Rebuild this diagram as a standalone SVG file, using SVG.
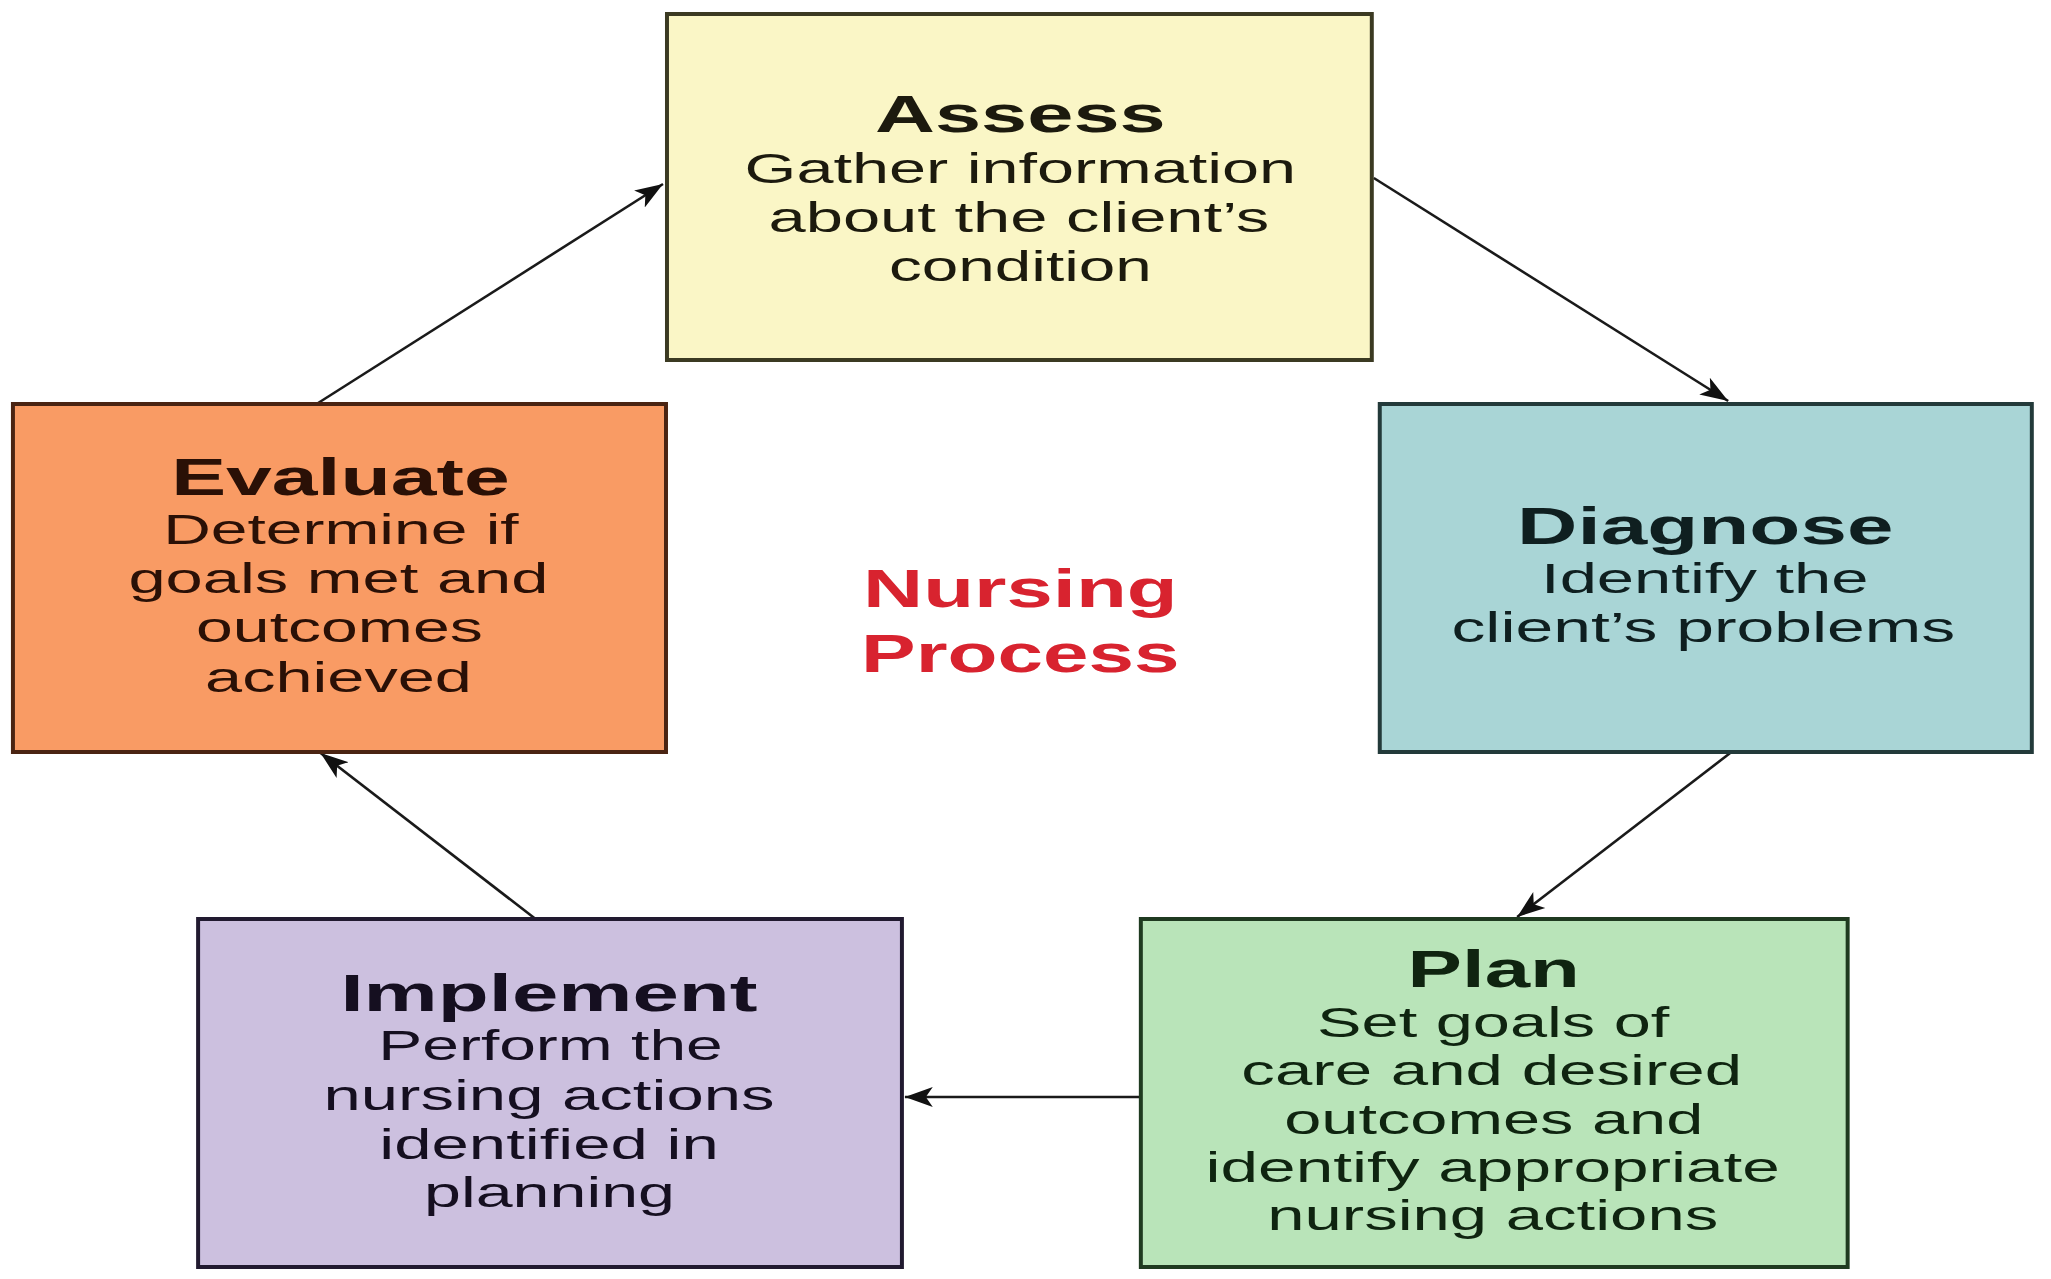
<svg xmlns="http://www.w3.org/2000/svg" width="2051" height="1279" viewBox="0 0 2051 1279">
<style>
.box{stroke-width:4}
.t{font-family:"Liberation Sans",Arial,sans-serif;font-weight:bold;font-size:52px}
.b{font-family:"Liberation Sans",Arial,sans-serif;font-size:42px}
.np{font-family:"Liberation Sans",Arial,sans-serif;font-weight:bold;font-size:54px;fill:#d8232f}
.conn{stroke:#1a1a1a;stroke-width:2.6;fill:none;marker-end:url(#ah)}
</style>
<defs>
<marker id="ah" markerUnits="userSpaceOnUse" viewBox="0 -11 29 22" refX="28" refY="0" markerWidth="29" markerHeight="22" orient="auto">
<path d="M28 0 L0 -10 L7 0 L0 10 Z" fill="#111"/>
</marker>
</defs>
<rect width="2051" height="1279" fill="#fff"/>
<g transform="scale(0.9955 1)">
<g id="connectors">
<line class="conn" x1="318" y1="404" x2="666" y2="184"/>
<line class="conn" x1="1380" y1="178" x2="1736" y2="401"/>
<line class="conn" x1="1738" y1="753" x2="1524" y2="917"/>
<line class="conn" x1="1146" y1="1097" x2="909" y2="1097"/>
<line class="conn" x1="538" y1="919" x2="322" y2="753"/>
</g>
<g id="assess">
<rect class="box" x="670" y="14" width="708" height="346" fill="#faf6c6" stroke="#3b3a22"/>
<g fill="#1c1a0e">
<text class="t" x="879" y="132" textLength="292" lengthAdjust="spacingAndGlyphs">Assess</text>
<text class="b" x="748" y="183" textLength="554" lengthAdjust="spacingAndGlyphs">Gather information</text>
<text class="b" x="772" y="232" textLength="503" lengthAdjust="spacingAndGlyphs">about the client’s</text>
<text class="b" x="893" y="281" textLength="264" lengthAdjust="spacingAndGlyphs">condition</text>
</g>
</g>
<g id="evaluate">
<rect class="box" x="13" y="404" width="656" height="348" fill="#f99b64" stroke="#4a2412"/>
<g fill="#2a1006">
<text class="t" x="172" y="495" textLength="340" lengthAdjust="spacingAndGlyphs">Evaluate</text>
<text class="b" x="164" y="544" textLength="357" lengthAdjust="spacingAndGlyphs">Determine if</text>
<text class="b" x="129" y="593" textLength="422" lengthAdjust="spacingAndGlyphs">goals met and</text>
<text class="b" x="197" y="642" textLength="288" lengthAdjust="spacingAndGlyphs">outcomes</text>
<text class="b" x="206" y="692" textLength="268" lengthAdjust="spacingAndGlyphs">achieved</text>
</g>
</g>
<g id="diagnose">
<rect class="box" x="1386" y="404" width="655" height="348" fill="#a9d5d6" stroke="#233a3a"/>
<g fill="#0f1f20">
<text class="t" x="1524" y="544" textLength="378" lengthAdjust="spacingAndGlyphs">Diagnose</text>
<text class="b" x="1548" y="593" textLength="329" lengthAdjust="spacingAndGlyphs">Identify the</text>
<text class="b" x="1458" y="642" textLength="506" lengthAdjust="spacingAndGlyphs">client’s problems</text>
</g>
</g>
<g id="implement">
<rect class="box" x="199" y="919" width="707" height="348" fill="#ccc0df" stroke="#211a30"/>
<g fill="#150f20">
<text class="t" x="342" y="1011" textLength="419" lengthAdjust="spacingAndGlyphs">Implement</text>
<text class="b" x="380" y="1060" textLength="346" lengthAdjust="spacingAndGlyphs">Perform the</text>
<text class="b" x="325" y="1110" textLength="453" lengthAdjust="spacingAndGlyphs">nursing actions</text>
<text class="b" x="381" y="1159" textLength="341" lengthAdjust="spacingAndGlyphs">identified in</text>
<text class="b" x="426" y="1207" textLength="252" lengthAdjust="spacingAndGlyphs">planning</text>
</g>
</g>
<g id="plan">
<rect class="box" x="1146" y="919" width="710" height="348" fill="#b9e4b9" stroke="#1f3a20"/>
<g fill="#0f2410">
<text class="t" x="1414" y="987" textLength="173" lengthAdjust="spacingAndGlyphs">Plan</text>
<text class="b" x="1323" y="1037" textLength="354" lengthAdjust="spacingAndGlyphs">Set goals of</text>
<text class="b" x="1247" y="1085" textLength="503" lengthAdjust="spacingAndGlyphs">care and desired</text>
<text class="b" x="1290" y="1134" textLength="421" lengthAdjust="spacingAndGlyphs">outcomes and</text>
<text class="b" x="1211" y="1182" textLength="577" lengthAdjust="spacingAndGlyphs">identify appropriate</text>
<text class="b" x="1273" y="1230" textLength="453" lengthAdjust="spacingAndGlyphs">nursing actions</text>
</g>
</g>
<g id="center-label">
<text class="np" x="867" y="607" textLength="316" lengthAdjust="spacingAndGlyphs">Nursing</text>
<text class="np" x="865" y="672" textLength="320" lengthAdjust="spacingAndGlyphs">Process</text>
</g>
</g>
</svg>
